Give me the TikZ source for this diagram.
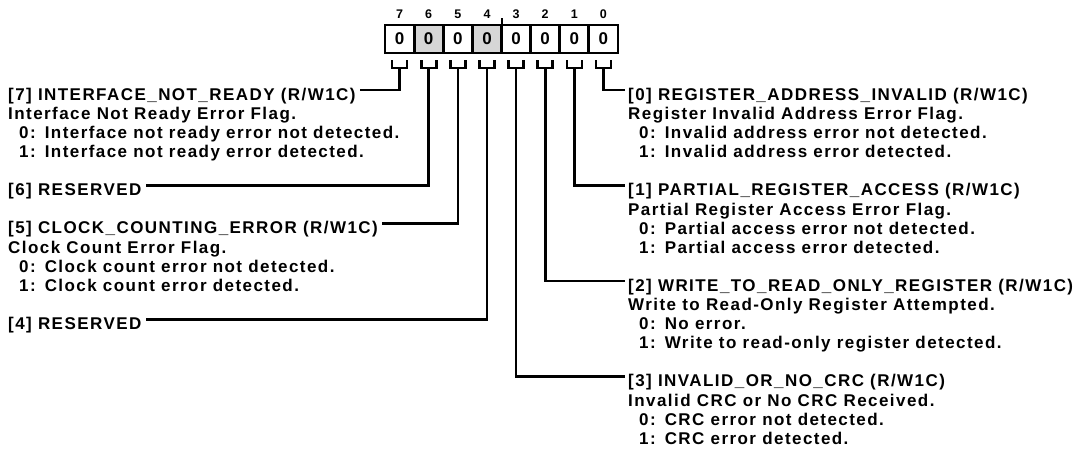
\documentclass[tikz,border=0pt]{standalone}
\usepackage{fontspec}
\setmainfont{Liberation Sans}[LetterSpace=8.5]
\usepackage{tikz}
\usetikzlibrary{positioning}
\definecolor{rsvdgray}{RGB}{214,214,214}
\newcommand{\valrow}[2]{\hspace*{11pt}#1:\hspace*{9pt}#2}

\begin{document}
\begin{tikzpicture}[x=1pt, y=-1pt,
  cell/.style={draw, line width=2.8pt, minimum width=29.1pt, minimum height=28pt, inner sep=0pt, outer sep=0pt, font=\fontsize{17}{19}\selectfont\bfseries},
  rsvd/.style={cell, fill=rsvdgray},
  bitnum/.style={inner sep=0pt, font=\fontsize{12.5}{14}\selectfont\bfseries},
  head/.style={inner sep=0pt, anchor=base west, font=\fontsize{17}{19}\selectfont\bfseries},
  desc/.style={inner sep=0pt, anchor=north west, align=left, font=\fontsize{17}{19}\selectfont\bfseries},
  lead/.style={line width=2.6pt}]

\path[use as bounding box] (0,0) rectangle (1089,451);

% register cells
\node[cell] (b7) at (399.6,39) {0};
\node[rsvd] (b6) at (428.7,39) {0};
\node[cell] (b5) at (457.8,39) {0};
\node[rsvd] (b4) at (487.0,39) {0};
\node[cell] (b3) at (516.1,39) {0};
\node[cell] (b2) at (545.2,39) {0};
\node[cell] (b1) at (574.3,39) {0};
\node[cell] (b0) at (603.4,39) {0};
\draw[line width=2pt] (b4.north east) -- ++(0,-7);

% bit numbers
\node[bitnum, above=6pt of b7] (n7) {7};
\node[bitnum, above=6pt of b6] (n6) {6};
\node[bitnum, above=6pt of b5] (n5) {5};
\node[bitnum, above=6pt of b4] (n4) {4};
\node[bitnum, above=6pt of b3] (n3) {3};
\node[bitnum, above=6pt of b2] (n2) {2};
\node[bitnum, above=6pt of b1] (n1) {1};
\node[bitnum, above=6pt of b0] (n0) {0};

% left side fields
\node[head] (h7) at (8,100.3) {[7] INTERFACE\_NOT\_READY (R/W1C)};
\node[desc] (d7) at (8,107.3) {Interface Not Ready Error Flag.\\
  \valrow{0}{Interface not ready error not detected.}\\
  \valrow{1}{Interface not ready error detected.}};
\node[head] (h6) at (8,195.8) {[6] RESERVED};
\node[head] (h5) at (8,233.8) {[5] CLOCK\_COUNTING\_ERROR (R/W1C)};
\node[desc] (d5) at (8,240.8) {Clock Count Error Flag.\\
  \valrow{0}{Clock count error not detected.}\\
  \valrow{1}{Clock count error detected.}};
\node[head] (h4) at (8,329.8) {[4] RESERVED};

% right side fields
\node[head] (h0) at (628,100.3) {[0] REGISTER\_ADDRESS\_INVALID (R/W1C)};
\node[desc] (d0) at (628,107.3) {Register Invalid Address Error Flag.\\
  \valrow{0}{Invalid address error not detected.}\\
  \valrow{1}{Invalid address error detected.}};
\node[head] (h1) at (628,195.8) {[1] PARTIAL\_REGISTER\_ACCESS (R/W1C)};
\node[desc] (d1) at (628,202.8) {Partial Register Access Error Flag.\\
  \valrow{0}{Partial access error not detected.}\\
  \valrow{1}{Partial access error detected.}};
\node[head] (h2) at (628,291.3) {[2] WRITE\_TO\_READ\_ONLY\_REGISTER (R/W1C)};
\node[desc] (d2) at (628,298.3) {Write to Read-Only Register Attempted.\\
  \valrow{0}{No error.}\\
  \valrow{1}{Write to read-only register detected.}};
\node[head] (h3) at (628,386.8) {[3] INVALID\_OR\_NO\_CRC (R/W1C)};
\node[desc] (d3) at (628,393.8) {Invalid CRC or No CRC Received.\\
  \valrow{0}{CRC error not detected.}\\
  \valrow{1}{CRC error detected.}};

% brackets under the cells
\draw[lead] ([xshift=-7.5pt,yshift=-7pt]b7.south) -- ++(0,8) -- ++(15,0) -- ++(0,-8);
\draw[lead] ([xshift=-7.5pt,yshift=-7pt]b6.south) -- ++(0,8) -- ++(15,0) -- ++(0,-8);
\draw[lead] ([xshift=-7.5pt,yshift=-7pt]b5.south) -- ++(0,8) -- ++(15,0) -- ++(0,-8);
\draw[lead] ([xshift=-7.5pt,yshift=-7pt]b4.south) -- ++(0,8) -- ++(15,0) -- ++(0,-8);
\draw[lead] ([xshift=-7.5pt,yshift=-7pt]b3.south) -- ++(0,8) -- ++(15,0) -- ++(0,-8);
\draw[lead] ([xshift=-7.5pt,yshift=-7pt]b2.south) -- ++(0,8) -- ++(15,0) -- ++(0,-8);
\draw[lead] ([xshift=-7.5pt,yshift=-7pt]b1.south) -- ++(0,8) -- ++(15,0) -- ++(0,-8);
\draw[lead] ([xshift=-7.5pt,yshift=-7pt]b0.south) -- ++(0,8) -- ++(15,0) -- ++(0,-8);

% leaders to the field names
\draw[lead] ([yshift=-15pt]b7.south) |- ([xshift=4pt,yshift=5.8pt]h7.east);
\draw[lead] ([yshift=-15pt]b6.south) |- ([xshift=4pt,yshift=5.8pt]h6.east);
\draw[lead] ([yshift=-15pt]b5.south) |- ([xshift=4pt,yshift=5.8pt]h5.east);
\draw[lead] ([yshift=-15pt]b4.south) |- ([xshift=4pt,yshift=5.8pt]h4.east);
\draw[lead] ([yshift=-15pt]b3.south) |- ([xshift=-3pt,yshift=5.8pt]h3.west);
\draw[lead] ([yshift=-15pt]b2.south) |- ([xshift=-3pt,yshift=5.8pt]h2.west);
\draw[lead] ([yshift=-15pt]b1.south) |- ([xshift=-3pt,yshift=5.8pt]h1.west);
\draw[lead] ([yshift=-15pt]b0.south) |- ([xshift=-3pt,yshift=5.8pt]h0.west);

\end{tikzpicture}
\end{document}
